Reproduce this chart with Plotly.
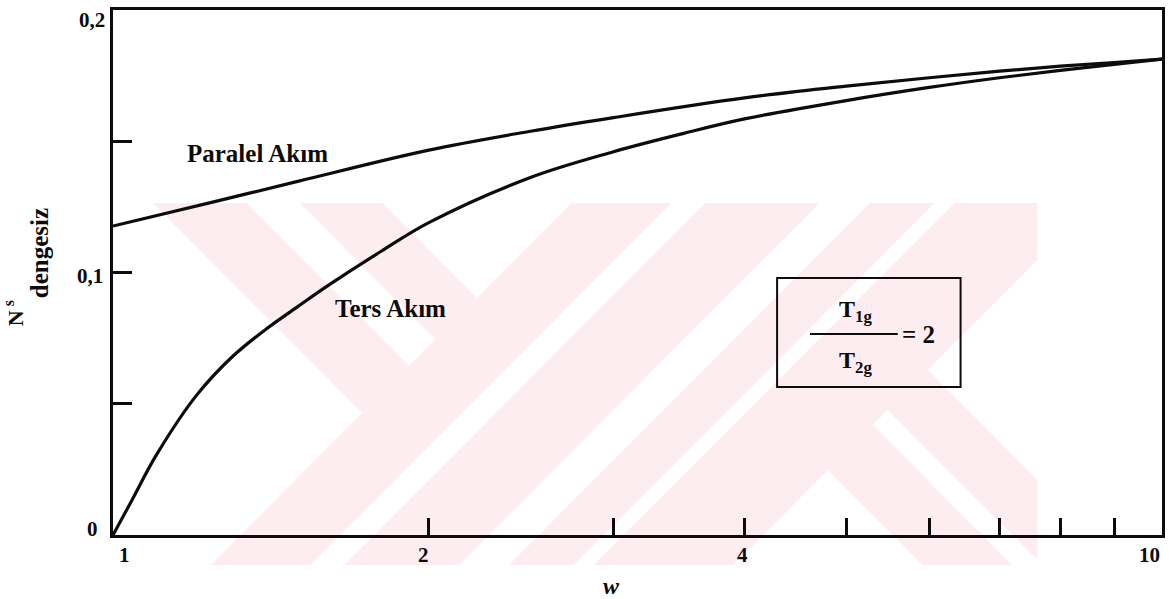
import math
import plotly.graph_objects as go

# ---- data ----
w_paralel = [1.0, 1.25, 1.5, 2.0, 2.5, 3.0, 4.0, 5.0, 6.0, 7.0, 8.0, 9.0, 10.0]
ns_paralel = [0.1177, 0.1270, 0.1347, 0.1466, 0.1538, 0.1590, 0.1665, 0.1710, 0.1742, 0.1767, 0.1786, 0.1800, 0.1813]

w_ters = [1.0, 1.04, 1.1, 1.2, 1.3, 1.4, 1.5, 1.6, 1.8, 2.0, 2.5, 3.0, 3.5, 4.0, 5.0, 6.0, 7.0, 8.0, 9.0, 10.0]
ns_ters = [0.0, 0.0125, 0.0305, 0.0530, 0.0680, 0.0785, 0.0870, 0.0948, 0.1080, 0.1190, 0.1362, 0.1460,
           0.1530, 0.1585, 0.1655, 0.1705, 0.1742, 0.1770, 0.1793, 0.1813]

x_tick_vals = [2, 3, 4, 5, 6, 7, 8, 9]
x_label_vals = [1, 2, 4, 10]
x_label_text = ["1", "2", "4", "10"]
y_tick_vals = [0.05, 0.1, 0.15]
y_label_vals = [0, 0.1, 0.2]
y_label_text = ["0", "0,1", "0,2"]

# ---- geometry helpers (pixel -> paper) ----
W, H = 1170, 599
L, R, T, B = 113, 1165, 10, 535


def px(x):
    return (x - L) / (R - L)


def py(y):
    return (B - y) / (B - T)


FONT = "Liberation Serif"
BLACK = "#0d0b0b"
PINK = "#fdedf0"


# ---- background watermark (decorative, pale pink stripes) ----
def clip(poly, a, b, c):
    # keep points where a*x + b*y <= c
    out = []
    n = len(poly)
    for i in range(n):
        p, q = poly[i], poly[(i + 1) % n]
        fp = a * p[0] + b * p[1] - c
        fq = a * q[0] + b * q[1] - c
        if fp <= 0:
            out.append(p)
        if fp * fq < 0:
            t = fp / (fp - fq)
            out.append((p[0] + t * (q[0] - p[0]), p[1] + t * (q[1] - p[1])))
    return out


def region(d_lo=None, d_hi=None, s_lo=None, s_hi=None, box=(150, 203, 1040, 565)):
    x0, y0, x1, y1 = box
    poly = [(x0, y0), (x1, y0), (x1, y1), (x0, y1)]
    if d_lo is not None:
        poly = clip(poly, -1, 1, -d_lo)      # x - y >= d_lo
    if d_hi is not None:
        poly = clip(poly, 1, -1, d_hi)       # x - y <= d_hi
    if s_lo is not None:
        poly = clip(poly, -1, -1, -s_lo)     # x + y >= s_lo
    if s_hi is not None:
        poly = clip(poly, 1, 1, s_hi)        # x + y <= s_hi
    return poly


wm_pieces = [
    region(d_lo=-50, d_hi=44, s_hi=776),
    region(d_lo=97, d_hi=180, s_hi=776),
    region(s_lo=776, s_hi=876),
    region(s_lo=910, s_hi=1025),
    region(s_lo=1075, s_hi=1140),
    region(s_lo=1160, s_hi=1300),
    region(d_lo=360, d_hi=450, s_lo=1300),
    region(d_lo=480, d_hi=560, s_lo=1300),
]

shapes = []
for poly in wm_pieces:
    if len(poly) < 3:
        continue
    path = "M " + " L ".join("%.5f,%.5f" % (px(x), py(y)) for x, y in poly) + " Z"
    shapes.append(dict(type="path", xref="paper", yref="paper", path=path,
                       fillcolor=PINK, line=dict(width=0), layer="below"))

fig = go.Figure()

fig.add_trace(go.Scatter(x=w_paralel, y=ns_paralel, mode="lines",
                         line=dict(color=BLACK, width=3.2, shape="spline", smoothing=1.0),
                         name="Paralel Akım", showlegend=False, hoverinfo="skip"))
fig.add_trace(go.Scatter(x=w_ters, y=ns_ters, mode="lines",
                         line=dict(color=BLACK, width=3.2, shape="spline", smoothing=1.0),
                         name="Ters Akım", showlegend=False, hoverinfo="skip"))


def ann(x, y, text, size, **kw):
    d = dict(x=x, y=y, xref="paper", yref="paper", text=text, showarrow=False,
             xanchor="center", yanchor="middle", font=dict(family=FONT, size=size, color=BLACK))
    d.update(kw)
    return d


annotations = []
# x tick labels
x_offsets = {1: 11, 2: -5, 4: -2, 10: -13}
for v, t in zip(x_label_vals, x_label_text):
    annotations.append(ann(math.log10(v), 0, "<b>%s</b>" % t, 21, xref="x",
                           xshift=x_offsets[v], yshift=-20))
# y tick labels
y_shift = {0: 6, 0.1: -3.5, 0.2: -10}
x_shift = {0: -13, 0.1: -8, 0.2: -6}
for v, t in zip(y_label_vals, y_label_text):
    annotations.append(ann(0, v, "<b>%s</b>" % t, 21, yref="y", xanchor="right",
                           xshift=x_shift[v], yshift=y_shift[v]))

# axis titles
annotations.append(ann(px(613), py(586), "<b><i>w</i></b>", 24))
annotations.append(ann(px(15), py(318), "<b>N</b>", 22, textangle=-90))
annotations.append(ann(px(8), py(303), "<b>s</b>", 16, textangle=-90))
annotations.append(ann(px(39), py(253), "<b>dengesiz</b>", 25, textangle=-90))

# curve labels
annotations.append(ann(px(258), py(154), "<b>Paralel Akım</b>", 25))
annotations.append(ann(px(391), py(308), "<b>Ters Akım</b>", 25))

# ratio box text
annotations.append(ann(px(858), py(311), "<b>T<sub>1g</sub></b>", 24))
annotations.append(ann(px(858), py(362), "<b>T<sub>2g</sub></b>", 24))
annotations.append(ann(px(921), py(334), "<b>= 2</b>", 25))

shapes += [
    dict(type="rect", xref="paper", yref="paper", x0=px(779), x1=px(963), y0=py(278), y1=py(387),
         line=dict(color=BLACK, width=2), layer="above"),
    dict(type="line", xref="paper", yref="paper", x0=px(812), x1=px(900), y0=py(334), y1=py(334),
         line=dict(color=BLACK, width=2), layer="above"),
]

fig.update_layout(
    width=W, height=H,
    margin=dict(l=L, r=W - R, t=T, b=H - B),
    paper_bgcolor="white", plot_bgcolor="white",
    annotations=annotations, shapes=shapes,
    xaxis=dict(type="log", range=[0, 1], tickvals=x_tick_vals, showticklabels=False,
               ticks="inside", ticklen=17, tickwidth=2.5, tickcolor=BLACK,
               showline=True, linecolor=BLACK, linewidth=3, mirror=True,
               showgrid=False, zeroline=False),
    yaxis=dict(range=[0, 0.2], tickvals=y_tick_vals, showticklabels=False,
               ticks="inside", ticklen=19, tickwidth=2.5, tickcolor=BLACK,
               showline=True, linecolor=BLACK, linewidth=3, mirror=True,
               showgrid=False, zeroline=False),
)

fig.write_html("out.html")
